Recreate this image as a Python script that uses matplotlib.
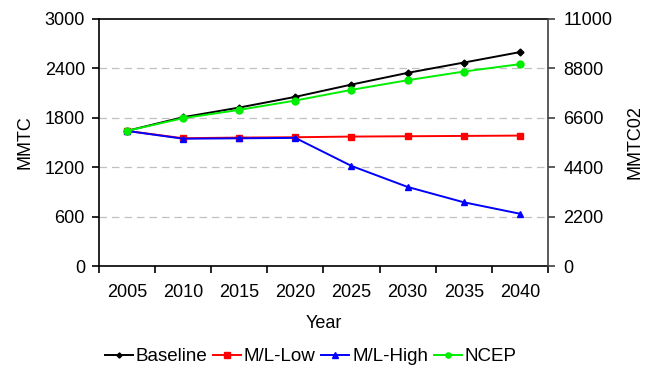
import numpy as np
import matplotlib.pyplot as plt

plt.rcParams['font.family'] = ['Liberation Sans', 'DejaVu Sans']

years = ['2005', '2010', '2015', '2020', '2025', '2030', '2035', '2040']
baseline = [1640, 1806, 1923, 2053, 2202, 2344, 2469, 2596]
ml_low = [1640, 1551, 1559, 1563, 1571, 1575, 1579, 1583]
ml_high = [1640, 1545, 1550, 1555, 1215, 960, 774, 635]
ncep = [1640, 1794, 1895, 2008, 2138, 2255, 2360, 2450]

left_ticks = [0, 600, 1200, 1800, 2400, 3000]
right_ticks = [0, 2200, 4400, 6600, 8800, 11000]

fig = plt.figure(figsize=(6.5, 3.69), dpi=100)
ax = fig.add_axes([0.152, 0.279, 0.691, 0.67])
x = np.arange(len(years))

for yv in left_ticks[1:-1]:
    ax.axhline(yv, color='#c0c0c0', lw=0.9, dashes=(6, 4), zorder=0)

ax.plot(x, baseline, color='black', marker='D', ms=3.5, lw=1.4, label='Baseline')
ax.plot(x, ml_low, color='#ff0000', marker='s', ms=5, lw=1.4, label='M/L-Low')
ax.plot(x, ml_high, color='#0000ff', marker='^', ms=5, lw=1.4, label='M/L-High')
ax.plot(x, ncep, color='#00ee00', marker='o', ms=5, lw=1.4, label='NCEP')

ax.set_xlim(-0.5, len(years) - 0.5)
ax.set_ylim(0, 3000)
ax.set_yticks(left_ticks)
ax.set_xticks(x)
ax.set_xticklabels(years)
ax.set_xticks(np.arange(len(years) + 1) - 0.5, minor=True)
ax.tick_params(axis='x', which='major', length=0, pad=13, labelsize=13)
ax.tick_params(axis='x', which='minor', length=5, width=1.2, direction='out')
ax.tick_params(axis='y', length=5, width=1.2, labelsize=13, pad=5)
for s in ['left', 'bottom', 'top']:
    ax.spines[s].set_linewidth(1.2)
ax.spines['right'].set_visible(False)
ax.set_xlabel('Year', fontsize=13, labelpad=10)
ax.set_ylabel('MMTC', fontsize=13, labelpad=8)

ax2 = ax.twinx()
ax2.set_ylim(0, 11000)
ax2.set_yticks(right_ticks)
ax2.tick_params(axis='y', length=5, width=1.2, labelsize=13, pad=6, color='#404040')
ax2.spines['right'].set_color('#404040')
ax2.spines['right'].set_linewidth(1.2)
for s in ['left', 'bottom', 'top']:
    ax2.spines[s].set_visible(False)
ax2.set_ylabel('MMTC02', fontsize=13, labelpad=10)

fig.legend(*ax.get_legend_handles_labels(), loc='center', bbox_to_anchor=(0.478, 0.033),
           ncol=4, frameon=False, fontsize=13.5, handlelength=1.5,
           handletextpad=0.15, columnspacing=0.3, markerscale=0.75)

fig.savefig('out.png', dpi=100)
